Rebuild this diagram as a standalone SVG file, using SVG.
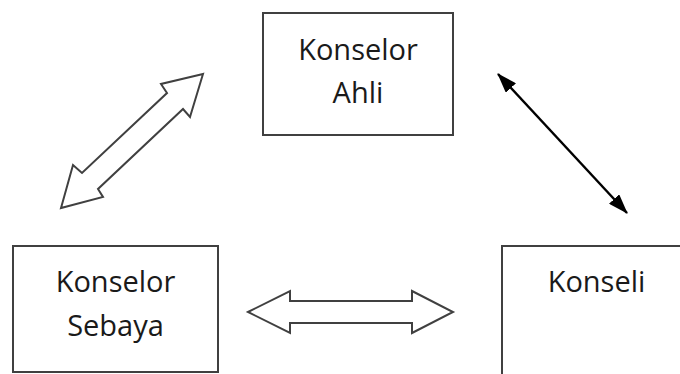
<svg xmlns="http://www.w3.org/2000/svg" width="680" height="374" viewBox="0 0 680 374">
<style>
.box{fill:#fff;stroke:#404040;stroke-width:2}
.lbl{font-family:"Open Sans","Noto Sans",sans-serif;font-size:29px;fill:#1a1a1a;text-anchor:middle}
.hollow{fill:#fff;stroke:#404040;stroke-width:2;stroke-linejoin:miter}
.line{stroke:#000;stroke-width:2.4;fill:none}
</style>
<defs>
<marker id="ah" viewBox="0 0 20 14" refX="19" refY="7" markerWidth="20" markerHeight="14" markerUnits="userSpaceOnUse" orient="auto-start-reverse">
<path d="M0,0 L20,7 L0,14 z" fill="#000"/>
</marker>
</defs>
<rect width="680" height="374" fill="#fff"/>
<g id="konselor-ahli">
<rect class="box" x="263" y="13" width="190" height="122"/>
<text class="lbl" x="358" y="60">Konselor</text>
<text class="lbl" x="358" y="103">Ahli</text>
</g>
<g id="konselor-sebaya">
<rect class="box" x="13" y="246" width="205" height="126"/>
<text class="lbl" x="115.5" y="292">Konselor</text>
<text class="lbl" x="115.5" y="336">Sebaya</text>
</g>
<g id="konseli">
<rect class="box" x="502" y="246" width="190" height="140"/>
<text class="lbl" x="596.5" y="292">Konseli</text>
</g>
<g id="connectors">
<path class="hollow" d="M203,74 L161,84 L167,93 L82,173 L73,165 L61,208 L103,197 L98,189 L183,109 L190,117 Z"/>
<path class="hollow" d="M248,312 L290,291 L290,301 L412,301 L412,291 L453,312 L412,333 L412,323 L290,323 L290,333 Z"/>
<line class="line" x1="498" y1="74" x2="627" y2="213" marker-start="url(#ah)" marker-end="url(#ah)"/>
</g>
</svg>
